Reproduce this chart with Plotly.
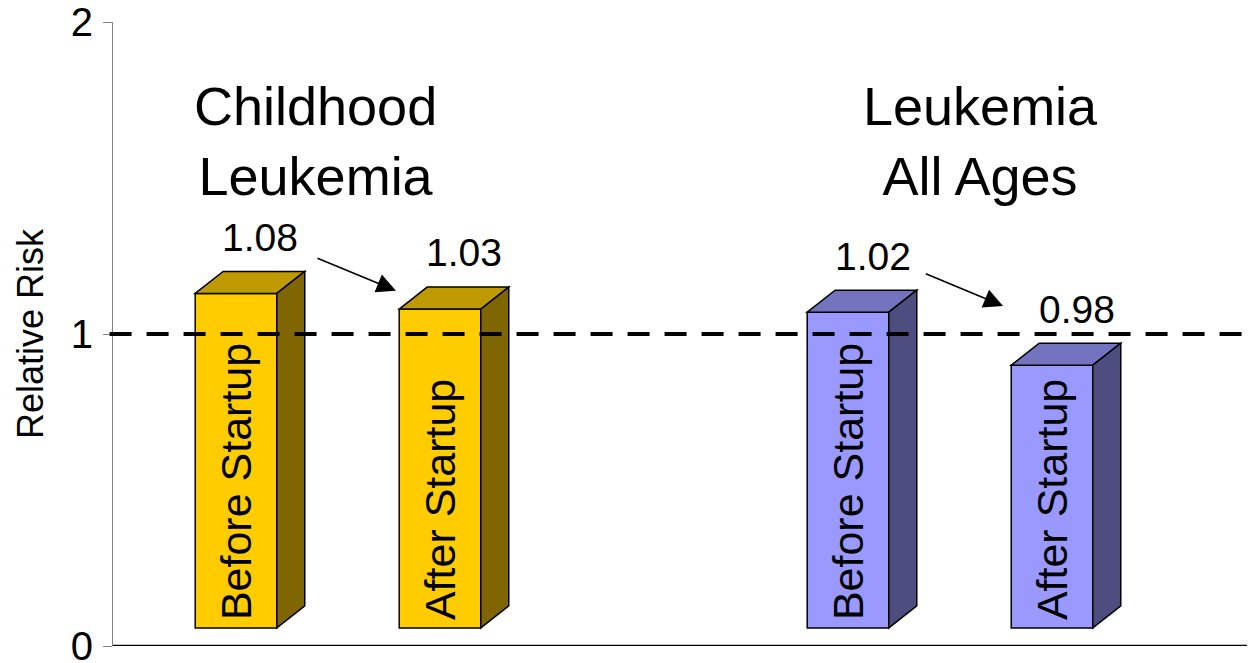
import plotly.graph_objects as go

# ---------------- data ----------------
group_titles = ["Childhood<br>Leukemia", "Leukemia<br>All Ages"]
bar_texts = ["Before Startup", "After Startup", "Before Startup", "After Startup"]
bar_group = [0, 0, 1, 1]
bar_slot = [0, 1, 0, 1]
bar_tops = [1.13, 1.08, 1.07, 0.90]          # plotted bar heights as drawn
rr_labels = ["1.08", "1.03", "1.02", "0.98"]  # relative risk labels
y_tick_vals = [0, 1, 2]
y_tick_text = ["0", "1", "2"]
reference_level = 1

# ---------------- styles ----------------
front_colors = ["#FFCC00", "#FFCC00", "#9999FF", "#9999FF"]
top_colors = ["#BF9900", "#BF9900", "#7373BF", "#7373BF"]
side_colors = ["#806600", "#806600", "#4D4D80", "#4D4D80"]
FONT = "Liberation Sans, Arial, sans-serif"
W, H = 1247, 655          # page body adds an 8px offset
ML, MR, MT, MB = 105, 0, 14, 17
bar_w = 0.40
depth_x = 0.137
depth_y = 0.0705
floor = 0.058
x_min, x_max = -0.603, 4.995

pos = [g * 3 + s for g, s in zip(bar_group, bar_slot)]

fig = go.Figure()
fig.add_trace(go.Bar(
    x=pos, y=[t - floor for t in bar_tops], base=[floor] * len(pos),
    width=bar_w, marker=dict(color=front_colors, line=dict(color="black", width=1.5)),
    hoverinfo="skip", showlegend=False,
))

shapes = []
for x, h, tc, sc in zip(pos, bar_tops, top_colors, side_colors):
    l, r = x - bar_w / 2, x + bar_w / 2
    top = f"M {l},{h} L {l+depth_x},{h+depth_y} L {r+depth_x},{h+depth_y} L {r},{h} Z"
    side = f"M {r},{floor} L {r+depth_x},{floor+depth_y} L {r+depth_x},{h+depth_y} L {r},{h} Z"
    shapes.append(dict(type="path", path=top, xref="x", yref="y", fillcolor=tc,
                       line=dict(color="black", width=1.5), layer="above"))
    shapes.append(dict(type="path", path=side, xref="x", yref="y", fillcolor=sc,
                       line=dict(color="black", width=1.5), layer="above"))

shapes.append(dict(type="line", xref="paper", yref="y", x0=-0.003, x1=1,
                   y0=reference_level, y1=reference_level,
                   line=dict(color="black", width=4, dash="22px,15px"), layer="above"))
shapes.append(dict(type="line", xref="paper", yref="y", x0=0, x1=1, y0=0, y1=0,
                   line=dict(color="black", width=2.5), layer="above"))

annotations = []
# rotated labels inside bars
for x, t in zip(pos, bar_texts):
    annotations.append(dict(x=x, y=0.075, text=t, showarrow=False, textangle=-90,
                            xanchor="center", yanchor="bottom",
                            font=dict(family=FONT, size=43, color="black")))
# value labels
for x, h, lab in zip(pos, bar_tops, rr_labels):
    annotations.append(dict(x=x + 0.12, y=h + 0.18, text=lab, showarrow=False,
                            xanchor="center", yanchor="middle",
                            font=dict(family=FONT, size=39, color="black")))
# group titles
title_x = [0.392, 3.647]
for gx, gt in zip(title_x, group_titles):
    annotations.append(dict(x=gx, y=1.619, text=gt, showarrow=False,
                            xanchor="center", yanchor="middle",
                            font=dict(family=FONT, size=54, color="black")))
# arrows between before/after
arrows = [((0.392, 1.245), (0.784, 1.139)), ((3.374, 1.195), (3.760, 1.090))]
for (sx, sy), (tx, ty) in arrows:
    annotations.append(dict(x=tx, y=ty, ax=sx, ay=sy, axref="x", ayref="y",
                            xref="x", yref="y", text="", showarrow=True,
                            arrowhead=2, arrowsize=2.4, arrowwidth=1.6,
                            arrowcolor="black", standoff=0, startstandoff=0))
# y axis title
annotations.append(dict(xref="paper", yref="y", x=-(ML + 8 - 30) / (W - ML - MR), y=1.0,
                        text="Relative Risk", showarrow=False, textangle=-90,
                        xanchor="center", yanchor="middle",
                        font=dict(family=FONT, size=36, color="black")))

fig.update_layout(
    width=W, height=H, margin=dict(l=ML, r=MR, t=MT, b=MB, autoexpand=False),
    paper_bgcolor="white", plot_bgcolor="white",
    shapes=shapes, annotations=annotations, showlegend=False,
    xaxis=dict(range=[x_min, x_max], showgrid=False, zeroline=False,
               showticklabels=False, ticks="", showline=False, fixedrange=True,
               automargin=False),
    yaxis=dict(range=[0, 2], tickvals=y_tick_vals, ticktext=y_tick_text,
               showgrid=False, zeroline=False, showline=True, linecolor="#808080",
               linewidth=1, ticks="outside", ticklen=9, tickcolor="#808080",
               tickwidth=1, tickfont=dict(family=FONT, size=40, color="black"),
               ticklabeloverflow="allow", ticklabelstandoff=2,
               automargin=False, fixedrange=True),
)

fig.write_html("out.html")
